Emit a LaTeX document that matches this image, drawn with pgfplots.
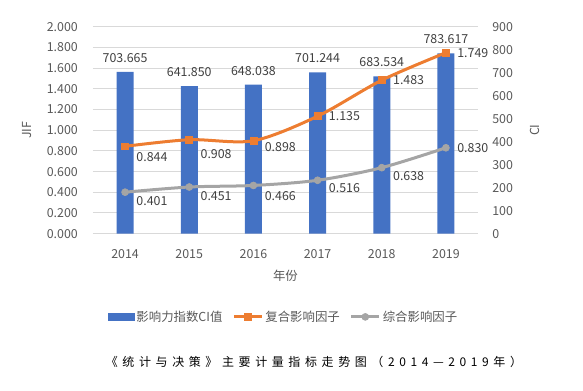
\documentclass[border=0pt]{standalone}
\usepackage{fontspec}
\setmainfont{Noto Sans CJK SC}
\usepackage{pgfplots}
\pgfplotsset{compat=1.18}
\usepackage{pgfplotstable}
\definecolor{barblue}{HTML}{4472C4}
\definecolor{orangeL}{HTML}{ED7D31}
\definecolor{grayL}{HTML}{A5A5A5}
\definecolor{txt}{HTML}{595959}
\definecolor{lab}{HTML}{404040}
\definecolor{gridc}{HTML}{D9D9D9}

\pgfplotstableread{
x ci lab
0 703.665 703.665
1 641.850 641.850
2 648.038 648.038
3 701.244 701.244
4 683.534 683.534
5 783.617 783.617
}\cidata

\pgfplotstableread{
x y lab dy
0 0.844 0.844 -8
1 0.908 0.908 -10.5
2 0.898 0.898 -4.5
3 1.135 1.135 0
4 1.483 1.483 0
5 1.749 1.749 0
}\fuhe

\pgfplotstableread{
x y lab dy
0 0.401 0.401 -6.3
1 0.451 0.451 -7
2 0.466 0.466 -7.7
3 0.516 0.516 -6
4 0.638 0.638 -6
5 0.830 0.830 0
}\zonghe

\newcommand\fnt{\fontsize{9.3pt}{11pt}\selectfont}
\newcommand\s{\hspace{3.45pt}}
\pgfplotsset{
  base/.style={
    at={(69.75pt,117.98pt)}, anchor=south west,
    scale only axis, width=288.75pt, height=155.25pt,
    xmin=-0.5, xmax=5.5,
    font=\fnt,
    tick label style={font=\fnt, text=txt},
    label style={font=\fnt, text=txt},
    major tick length=0pt,
    /pgf/number format/assume math mode=true,
  }
}

\begin{document}
\begin{tikzpicture}
\useasboundingbox (0,0) rectangle (437.25pt,293.25pt);

% axis 1: grid, left ticks, x ticks
\begin{axis}[base,
  ymin=0, ymax=2,
  ytick={0,0.2,...,2.01},
  yticklabel style={anchor=east, inner sep=0pt, xshift=-11.2pt,
    /pgf/number format/.cd, fixed, fixed zerofill, precision=3},
  ymajorgrids, grid style={gridc, line width=0.75pt},
  axis line style={draw=none},
  xtick={0,1,2,3,4,5},
  xticklabels={2014,2015,2016,2017,2018,2019},
  xticklabel style={anchor=center, yshift=-15.3pt},
  xlabel={年份},
  xlabel style={at={(axis description cs:0.5,-0.204)}, anchor=center},
  ylabel={JIF},
  ylabel style={at={(axis description cs:-0.171,0.5)}, anchor=center},
]
\addplot[draw=none, forget plot] coordinates {(0,0)};
\end{axis}

% axis 2: bars, right axis
\begin{axis}[base,
  ymin=0, ymax=900,
  ytick={0,100,...,900},
  yticklabel pos=right,
  yticklabel style={anchor=west, inner sep=0pt, xshift=10.5pt},
  hide x axis,
  axis line style={draw=none},
  ylabel={CI},
  ylabel style={at={(axis description cs:1.148,0.5)}, anchor=center},
]
\addplot[ybar, bar width=12.75pt, fill=barblue, draw=none,
  nodes near coords, point meta=explicit symbolic,
  every node near coord/.append style={anchor=center, inner sep=0pt, yshift=10.5pt, text=lab, font=\fnt}]
  table[x=x, y=ci, meta=lab]{\cidata};
\end{axis}

% axis 3: lines, left scale
\begin{axis}[base,
  ymin=0, ymax=2,
  hide x axis, hide y axis,
  legend style={at={(0.495,-0.402)}, anchor=center, draw=none, fill=none,
    legend columns=-1, font=\fnt, text=txt,
    /tikz/every even column/.append style={column sep=6pt},
    inner sep=0pt, nodes={inner sep=1.5pt}},
  legend image code/.code={
    \draw[#1, line width=2.25pt] (0pt,0pt) -- (21pt,0pt);
    \draw[#1, only marks] plot coordinates {(10.5pt,0pt)};
  },
]
\addlegendimage{legend image code/.code={\fill[barblue] (0pt,-2.6pt) rectangle (19.5pt,2.6pt);}}
\addlegendentry{影响力指数CI值}
\addplot[orangeL, line width=2.25pt, smooth, tension=0.5, mark=square*, mark size=2.6pt,
  mark options={fill=orangeL, draw=orangeL, line width=0.5pt},
  nodes near coords, point meta=explicit symbolic,
  visualization depends on={\thisrow{dy} \as \dy},
  every node near coord/.append style={anchor=west, inner sep=0pt, xshift=8.3pt, yshift=\dy pt, text=lab, font=\fnt}]
  table[x=x, y=y, meta=lab]{\fuhe};
\addlegendentry{复合影响因子}
\addplot[grayL, line width=2.25pt, smooth, tension=0.5, mark=*, mark size=2.6pt,
  mark options={fill=grayL, draw=grayL, line width=0.5pt},
  nodes near coords, point meta=explicit symbolic,
  visualization depends on={\thisrow{dy} \as \dy},
  every node near coord/.append style={anchor=west, inner sep=0pt, xshift=8.3pt, yshift=\dy pt, text=lab, font=\fnt}]
  table[x=x, y=y, meta=lab]{\zonghe};
\addlegendentry{综合影响因子}
\end{axis}

\node[anchor=center, font=\fontsize{9pt}{11pt}\selectfont, text=black, inner sep=0pt] at (235.5pt,21.75pt)
  {《\s{}统\s{}计\s{}与\s{}决\s{}策\s{}》\s{}主\s{}要\s{}计\s{}量\s{}指\s{}标\s{}走\s{}势\s{}图\s{}（\s{}2\s{}0\s{}1\s{}4\s{}—\s{}2\s{}0\s{}1\s{}9\s{}年\s{}）};
\end{tikzpicture}
\end{document}
